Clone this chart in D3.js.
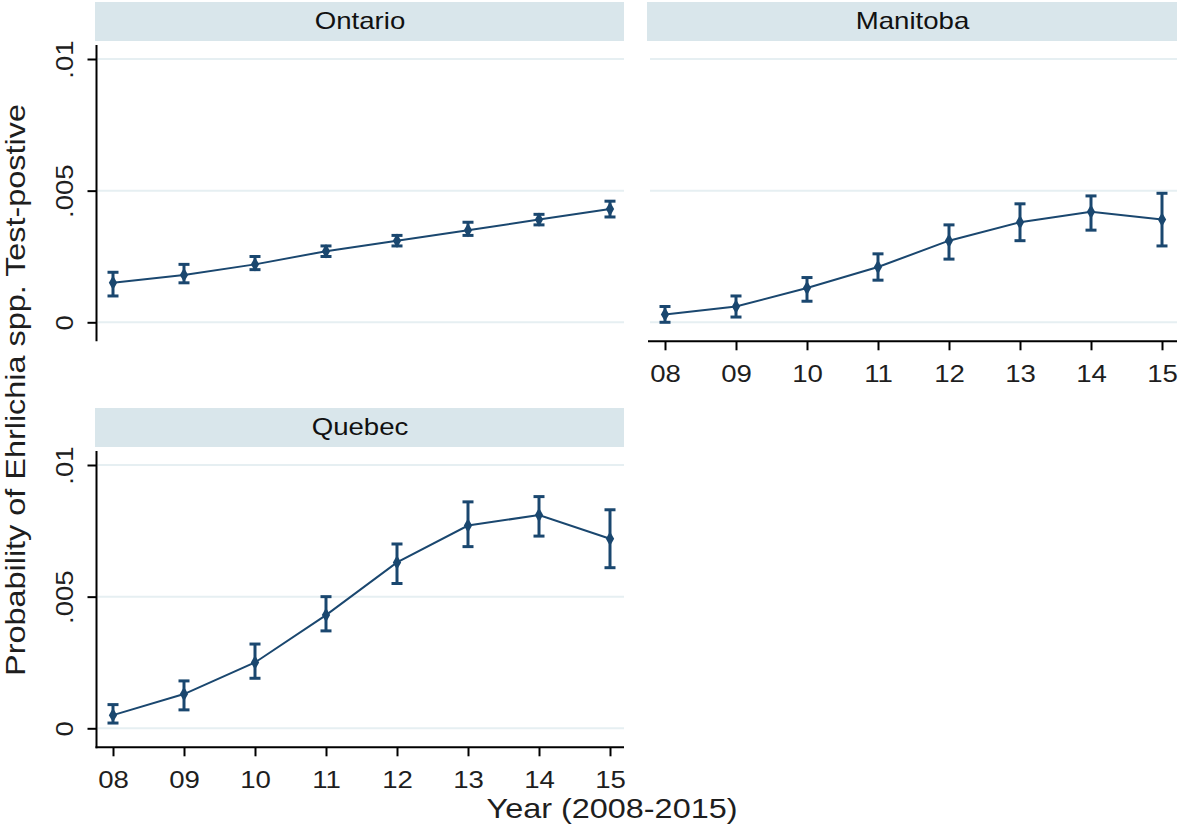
<!DOCTYPE html>
<html>
<head>
<meta charset="utf-8">
<script src="https://cdn.jsdelivr.net/npm/d3@7"></script>
<style>
  html, body { margin: 0; padding: 0; background: #ffffff; }
  svg { display: block; }
  text { font-family: "Liberation Sans", Arial, sans-serif; }
</style>
</head>
<body>
<svg id="chart" width="1181" height="836"></svg>
<script>
// ---- Data ----
const years = [2008, 2009, 2010, 2011, 2012, 2013, 2014, 2015];
const yearLabels = ["08", "09", "10", "11", "12", "13", "14", "15"];
const yTicks = [0, 0.005, 0.01];
const yTickLabels = ["0", ".005", ".01"];
const provinces = ["Ontario", "Manitoba", "Quebec"];

const ontarioEst   = [0.0015, 0.0018, 0.0022, 0.0027, 0.0031, 0.0035, 0.0039, 0.0043];
const ontarioLow   = [0.0010, 0.0015, 0.0020, 0.0025, 0.0029, 0.0033, 0.0037, 0.0040];
const ontarioHigh  = [0.0019, 0.0022, 0.0025, 0.0029, 0.0033, 0.0038, 0.0041, 0.0046];

const manitobaEst  = [0.0003, 0.0006, 0.0013, 0.0021, 0.0031, 0.0038, 0.0042, 0.0039];
const manitobaLow  = [0.0000, 0.0002, 0.0008, 0.0016, 0.0024, 0.0031, 0.0035, 0.0029];
const manitobaHigh = [0.0006, 0.0010, 0.0017, 0.0026, 0.0037, 0.0045, 0.0048, 0.0049];

const quebecEst    = [0.0005, 0.0013, 0.0025, 0.0043, 0.0063, 0.0077, 0.0081, 0.0072];
const quebecLow    = [0.0002, 0.0007, 0.0019, 0.0037, 0.0055, 0.0069, 0.0073, 0.0061];
const quebecHigh   = [0.0009, 0.0018, 0.0032, 0.0050, 0.0070, 0.0086, 0.0088, 0.0083];

const yTitle = "Probability of Ehrlichia spp. Test-postive";
const xTitle = "Year (2008-2015)";

// ---- Styling / layout ----
const NAVY = "#1a476f";
const GRID = "#e6eff2";
const STRIP = "#d9e6eb";
const TXT = "#1e1e1e";
const SX = 1.2; // horizontal glyph stretch of the original rendering

const seriesByProvince = {
  Ontario:  { est: ontarioEst,  lo: ontarioLow,  hi: ontarioHigh },
  Manitoba: { est: manitobaEst, lo: manitobaLow, hi: manitobaHigh },
  Quebec:   { est: quebecEst,   lo: quebecLow,   hi: quebecHigh }
};

const panels = {
  Ontario:  { x0: 96,  x1: 624,  stripTop: 2,   zeroY: 322.3, showY: true,  showX: false },
  Manitoba: { x0: 648, x1: 1177, stripTop: 2,   zeroY: 322.3, showY: false, showX: true },
  Quebec:   { x0: 96,  x1: 624,  stripTop: 408, zeroY: 728.3, showY: true,  showX: true }
};

const svg = d3.select("#chart");

provinces.forEach(name => {
  const p = panels[name];
  const s = seriesByProvince[name];
  const g = svg.append("g");

  const y = d3.scaleLinear().domain([0, 0.01]).range([p.zeroY, p.zeroY - 263.3]);
  const x = d3.scaleLinear().domain([2008, 2015]).range([p.x0 + 17, p.x0 + 514]);
  const plotTop = y(0.01) - 14;
  const plotBottom = y(0) + 19;

  // strip header
  g.append("rect")
    .attr("x", p.x0 - 1).attr("y", p.stripTop)
    .attr("width", p.x1 - p.x0 + 1).attr("height", 39)
    .attr("fill", STRIP);
  g.append("text")
    .attr("transform", `translate(${(p.x0 + p.x1) / 2},${p.stripTop + 27}) scale(${SX},1)`)
    .attr("text-anchor", "middle")
    .attr("font-size", 23)
    .attr("fill", "#111")
    .text(name);

  // gridlines
  g.selectAll("line.grid").data(yTicks).enter().append("line")
    .attr("class", "grid")
    .attr("x1", p.x0 + 2).attr("x2", p.x1)
    .attr("y1", d => y(d)).attr("y2", d => y(d))
    .attr("stroke", GRID).attr("stroke-width", 2);

  // y axis
  if (p.showY) {
    const ya = g.append("g")
      .attr("transform", `translate(${p.x0 + 0.5},0)`)
      .call(d3.axisLeft(y).tickValues(yTicks).tickSize(9).tickSizeOuter(0)
        .tickFormat((d, i) => yTickLabels[i]));
    ya.select(".domain").remove();
    ya.selectAll(".tick line").attr("stroke", "#000").attr("stroke-width", 2);
    ya.selectAll(".tick text")
      .attr("x", null).attr("dy", null)
      .attr("transform", `translate(-24,0) rotate(-90) scale(${SX},1)`)
      .attr("text-anchor", "middle")
      .attr("font-size", 23)
      .attr("font-family", "Liberation Sans, Arial, sans-serif")
      .attr("fill", TXT);
    g.append("line")
      .attr("x1", p.x0 + 0.5).attr("x2", p.x0 + 0.5)
      .attr("y1", plotTop).attr("y2", plotBottom + (p.showX ? 1 : 0))
      .attr("stroke", "#000").attr("stroke-width", 2);
  }

  // x axis
  if (p.showX) {
    const xa = g.append("g")
      .attr("transform", `translate(0,${plotBottom})`)
      .call(d3.axisBottom(x).tickValues(years).tickSize(9).tickSizeOuter(0)
        .tickFormat((d, i) => yearLabels[i]));
    xa.select(".domain").remove();
    xa.selectAll(".tick line").attr("stroke", "#000").attr("stroke-width", 2);
    xa.selectAll(".tick text")
      .attr("y", null).attr("dy", null)
      .attr("transform", `translate(0,41) scale(${SX},1)`)
      .attr("text-anchor", "middle")
      .attr("font-size", 23)
      .attr("font-family", "Liberation Sans, Arial, sans-serif")
      .attr("fill", TXT);
    g.append("line")
      .attr("x1", p.x0 - (p.showY ? 0.5 : 0)).attr("x2", p.x1)
      .attr("y1", plotBottom).attr("y2", plotBottom)
      .attr("stroke", "#000").attr("stroke-width", 2);
  }

  const pts = years.map((yr, i) => ({ yr, est: s.est[i], lo: s.lo[i], hi: s.hi[i] }));

  // connecting line
  g.append("path")
    .datum(pts)
    .attr("fill", "none")
    .attr("stroke", NAVY)
    .attr("stroke-width", 2)
    .attr("d", d3.line().x(d => x(d.yr)).y(d => y(d.est)));

  // error bars
  const eb = g.selectAll("g.eb").data(pts).enter().append("g").attr("class", "eb");
  eb.append("line")
    .attr("x1", d => x(d.yr)).attr("x2", d => x(d.yr))
    .attr("y1", d => y(d.lo)).attr("y2", d => y(d.hi))
    .attr("stroke", NAVY).attr("stroke-width", 3);
  ["lo", "hi"].forEach(k => {
    eb.append("line")
      .attr("x1", d => x(d.yr) - 5.5).attr("x2", d => x(d.yr) + 5.5)
      .attr("y1", d => y(d[k])).attr("y2", d => y(d[k]))
      .attr("stroke", NAVY).attr("stroke-width", 3);
  });

  // markers
  g.selectAll("path.mk").data(pts).enter().append("path")
    .attr("class", "mk")
    .attr("transform", d => `translate(${x(d.yr)},${y(d.est)})`)
    .attr("d", d3.symbol().type(d3.symbolDiamond).size(60))
    .attr("fill", NAVY);
});

// axis titles
svg.append("text")
  .attr("transform", `translate(25,390) rotate(-90) scale(${SX},1)`)
  .attr("text-anchor", "middle")
  .attr("font-size", 27)
  .attr("fill", TXT)
  .text(yTitle);

svg.append("text")
  .attr("transform", `translate(612,818) scale(${SX},1)`)
  .attr("text-anchor", "middle")
  .attr("font-size", 27)
  .attr("fill", TXT)
  .text(xTitle);
</script>
</body>
</html>
